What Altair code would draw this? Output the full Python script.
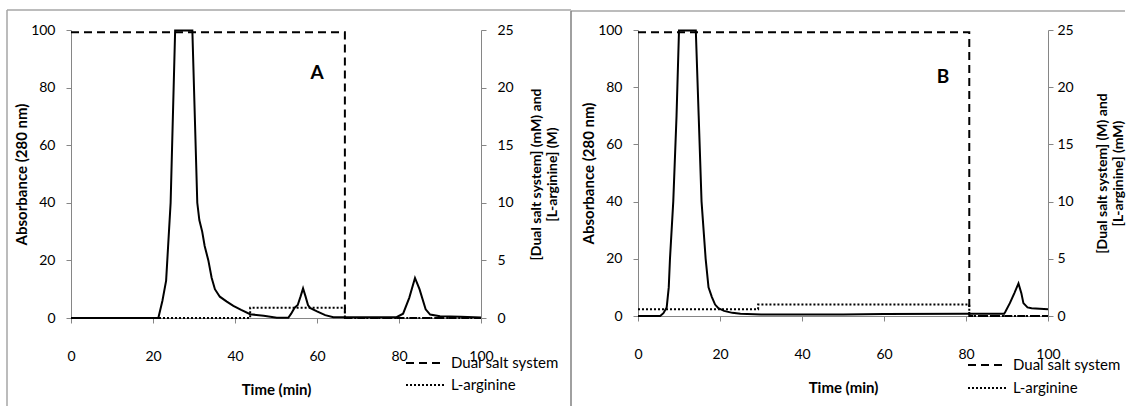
import altair as alt
import pandas as pd

# ---------------- data ----------------
x_ticks = [0, 20, 40, 60, 80, 100]
abs_ticks = [0, 20, 40, 60, 80, 100]
conc_ticks = [0, 5, 10, 15, 20, 25]
series_names = ["Dual salt system", "L-arginine"]
panel_letters = ["A", "B"]
letter_time = [60.0, 74.4]
letter_abs = [85.0, 83.6]
right_titles = [
    ["[Dual salt system] (mM) and", "[L-arginine] (M)"],
    ["[Dual salt system] (M) and", "[L-arginine] (mM)"],
]

# Panel A - absorbance (280 nm)
a_time = [0, 21.3, 22.3, 23.2, 24.3, 25.4, 29.6, 30.8, 31.3, 32.0, 32.6, 33.5, 34.3,
          35.1, 36.3, 38.0, 39.6, 41.5, 43.7, 47.0, 50.2, 53.0, 53.7, 54.5, 55.3,
          56.0, 56.6, 57.2, 57.8, 58.3, 60.0, 62.0, 64.0, 79.4, 81.0, 82.5, 83.9,
          85.0, 86.5, 87.6, 90.0, 95.0, 100.0]
a_abs = [0, 0, 6, 13, 40, 99.8, 99.8, 40, 34, 30, 25, 20, 14,
         10, 7.4, 5.7, 4.2, 2.8, 1.3, 0.8, 0.1, 0.1, 1.5, 3.5, 4.5,
         7.5, 10.3, 7.5, 4.5, 3.5, 2.3, 1.0, 0.3, 0.3, 1.5, 7.0, 13.9,
         10.0, 3.0, 1.2, 0.6, 0.4, 0.2]
a_salt_time = [0, 66.8, 66.8, 100]
a_salt_conc = [24.8, 24.8, 0, 0]
a_arg_time = [0, 43.7, 43.7, 66.8, 66.8, 100]
a_arg_conc = [0, 0, 0.9, 0.9, 0, 0]

# Panel B - absorbance (280 nm)
b_time = [0, 5.4, 6.2, 7.0, 7.5, 7.8, 8.6, 9.4, 10.0, 14.1, 14.8, 15.5, 16.5, 17.2,
          18.0, 18.8, 19.6, 21.0, 23.0, 25.0, 30.0, 50.0, 60.0, 80.0, 89.3, 89.6,
          90.7, 91.8, 92.8, 93.5, 94.0, 95.0, 96.0, 100.0]
b_abs = [0, 0, 1, 3, 10, 20, 40, 70, 99.8, 99.8, 70, 40, 20, 10,
         6.7, 4, 2.7, 1.8, 1.1, 0.8, 0.5, 0.5, 0.7, 0.8, 0.8, 1.5,
         4.5, 8, 11.4, 8, 4.5, 3, 2.7, 2.4]
b_salt_time = [0, 80.8, 80.8, 100]
b_salt_conc = [24.8, 24.8, 0, 0]
b_arg_time = [0, 29.3, 29.3, 80.8, 80.8, 100]
b_arg_conc = [0.6, 0.6, 1.0, 1.0, 0, 0]

# ---------------- styling ----------------
AXIS_GRAY = "#868686"
BORDER_GRAY = "#a6a6a6"
FONT = "Lato"
dash_styles = [[8, 5], [2, 2]]
dash_scale = alt.Scale(domain=series_names, range=dash_styles)


def panel(idx, t_abs, v_abs, st, sv, at, av, height, frame, legend_pos, right_lab_pad,
          right_title_pad, text_limit):
    df_abs = pd.DataFrame({"Time": t_abs, "Absorbance": v_abs, "i": range(len(t_abs))})
    df_conc = pd.concat([
        pd.DataFrame({"Time": st, "Conc": sv, "Series": series_names[0], "i": range(len(st))}),
        pd.DataFrame({"Time": at, "Conc": av, "Series": series_names[1], "i": range(len(at))}),
    ])
    df_letter = pd.DataFrame({"Time": [letter_time[idx]], "Absorbance": [letter_abs[idx]],
                              "label": [panel_letters[idx]]})

    x_enc = alt.X("Time:Q", scale=alt.Scale(domain=[0, 100], nice=False),
                  axis=alt.Axis(values=x_ticks, title="Time (min)", grid=False,
                                domainColor=AXIS_GRAY, tickColor=AXIS_GRAY, tickSize=5,
                                labelFontSize=14, labelPadding=26, labelColor="black",
                                titleFontSize=15, titleFontWeight="bold", titleColor="black",
                                titlePadding=19, labelFlush=False))
    x_plain = alt.X("Time:Q", scale=alt.Scale(domain=[0, 100], nice=False))

    one = alt.Data(values=[{"d": 0}])
    fx0, fx1, fy0, fy1, fcol = frame
    top_rule = alt.Chart(one).mark_rule(color=BORDER_GRAY, strokeWidth=1.5).encode(
        x=alt.value(fx0), x2=alt.value(fx1), y=alt.value(fy0))
    left_rule = alt.Chart(one).mark_rule(color=fcol, strokeWidth=1.5).encode(
        x=alt.value(fx0), y=alt.value(fy0), y2=alt.value(fy1))

    conc = alt.Chart(df_conc).mark_line(color="black", strokeWidth=2).encode(
        x=x_plain,
        y=alt.Y("Conc:Q", scale=alt.Scale(domain=[0, 25], nice=False),
                axis=alt.Axis(values=conc_ticks, orient="right", grid=False,
                              title=right_titles[idx], titleAngle=270, titleBaseline="top",
                              titleLineHeight=16, titlePadding=right_title_pad, titleFontSize=14,
                              titleFontWeight="bold", titleColor="black",
                              domainColor=AXIS_GRAY, tickColor=AXIS_GRAY, tickSize=5,
                              labelFontSize=14, labelPadding=right_lab_pad, labelColor="black")),
        strokeDash=alt.StrokeDash("Series:N", scale=dash_scale, legend=None),
        order="i:Q",
    )

    absorb = alt.Chart(df_abs).mark_line(color="black", strokeWidth=2).encode(
        x=x_enc,
        y=alt.Y("Absorbance:Q", scale=alt.Scale(domain=[0, 100], nice=False),
                axis=alt.Axis(values=abs_ticks, orient="left", grid=False,
                              title="Absorbance (280 nm)", titlePadding=1, titleFontSize=15,
                              titleFontWeight="bold", titleColor="black",
                              domainColor=AXIS_GRAY, tickColor=AXIS_GRAY, tickSize=5,
                              labelFontSize=14, labelPadding=11, labelColor="black")),
        order="i:Q",
    )

    letter = alt.Chart(df_letter).mark_text(fontSize=19, fontWeight="bold", color="black").encode(
        x=x_plain,
        y=alt.Y("Absorbance:Q", scale=alt.Scale(domain=[0, 100], nice=False), axis=None),
        text="label:N",
    )

    sx0, sx1, tx, ys = legend_pos
    legend_layers = []
    for name, dash, yy in zip(series_names, dash_styles, ys):
        legend_layers.append(
            alt.Chart(one).mark_rule(color="black", strokeWidth=2).encode(
                x=alt.value(sx0), x2=alt.value(sx1), y=alt.value(yy),
                strokeDash=alt.value(dash)))
        legend_layers.append(
            alt.Chart(one).mark_text(align="left", baseline="middle", fontSize=15,
                                     color="black", text=name, limit=text_limit,
                                     ellipsis="").encode(
                x=alt.value(tx), y=alt.value(yy)))

    return alt.layer(top_rule, left_rule, conc, absorb, letter, *legend_layers).resolve_scale(
        y="independent").properties(width=410, height=height)


pA = panel(0, a_time, a_abs, a_salt_time, a_salt_conc, a_arg_time, a_arg_conc, 288,
           (-64, 500, -20, 376, BORDER_GRAY), (335, 374, 380, [333, 355]), 11, 0, 200)
pB = panel(1, b_time, b_abs, b_salt_time, b_salt_conc, b_arg_time, b_arg_conc, 286,
           (-67, 487, -19, 376, "#808080"), (330, 369, 375, [335, 358]), 4, 6, 112)

chart = alt.hconcat(pA, pB, spacing=157, bounds="flush").properties(
    padding={"left": 6, "top": 9, "right": 0, "bottom": 0}
).configure(font=FONT).configure_view(stroke=None)

chart.save("out.html", embed_options={"renderer": "svg", "actions": False})
